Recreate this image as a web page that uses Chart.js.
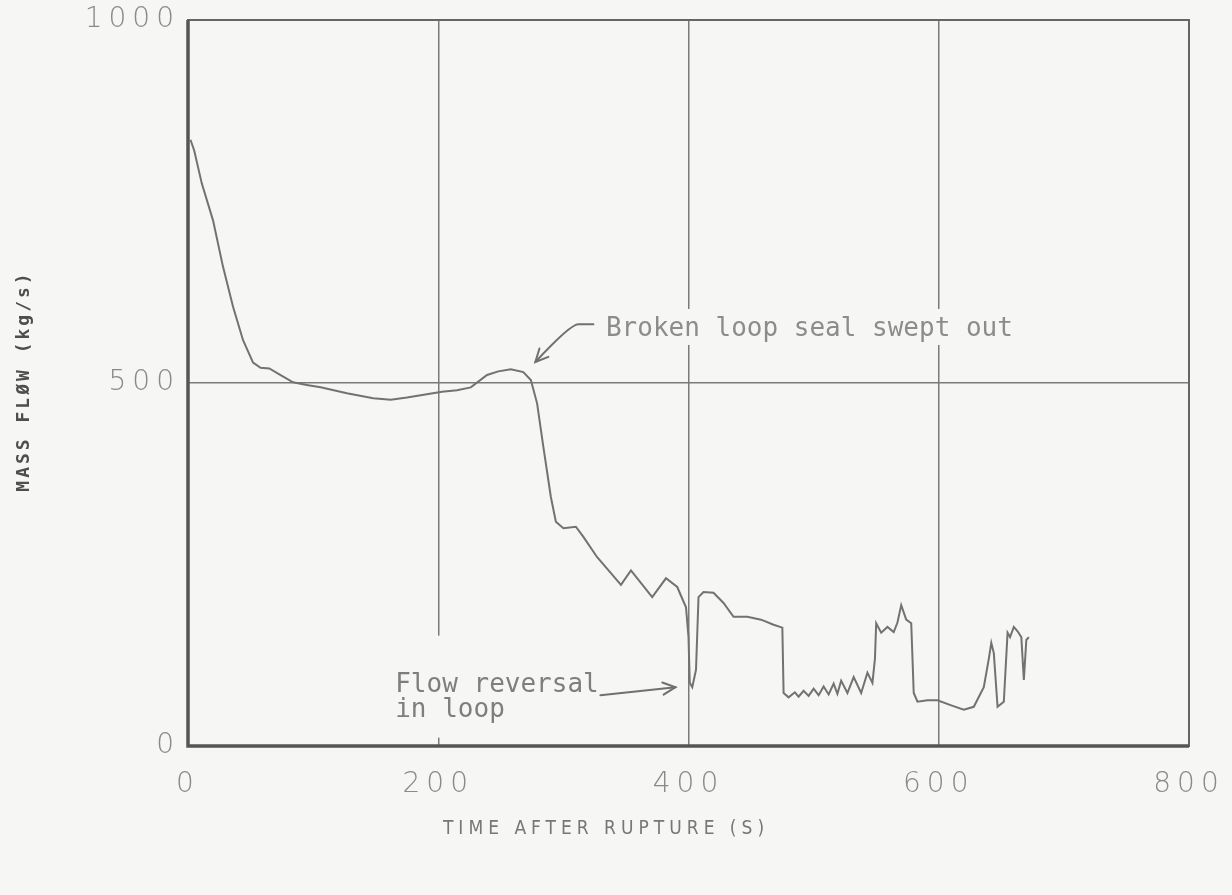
<!DOCTYPE html>
<html>
<head>
<meta charset="utf-8">
<title>Mass flow after rupture</title>
<script src="https://cdn.jsdelivr.net/npm/chart.js@4/dist/chart.umd.min.js"></script>
<style>
  html, body { margin: 0; padding: 0; background: #f6f6f4; }
  #wrap { width: 1232px; height: 895px; }
</style>
</head>
<body>
<div id="wrap"><canvas id="flowChart" width="1232" height="895"></canvas></div>
<script>
// values (time in s, mass flow in kg/s)
const times = [2, 5, 11, 20, 28, 36, 44, 52, 58, 65, 74, 84, 96, 106, 127, 148, 162, 175, 186, 203,
  215, 226, 239, 248, 258, 268, 274, 279, 284, 290, 294, 300, 310, 316, 327, 338, 346, 354, 371, 382,
  391, 398, 400, 401, 403, 406, 408, 412, 420, 428, 436, 447, 458, 468, 475, 476, 480, 485, 488, 492,
  496, 500, 504, 508, 512, 516, 519, 522, 527, 532, 538, 543, 547, 549, 550, 554, 559, 564, 567, 570,
  574, 578, 580, 583, 591, 599, 610, 620, 628, 636, 640, 642, 644, 647, 652, 655, 657, 660, 663, 666,
  668, 670, 672];
const flows = [835, 820, 775, 724, 660, 605, 559, 528, 521, 520, 511, 501, 497, 494, 486, 479, 477, 480, 483, 488,
  490, 494, 511, 516, 519, 515, 504, 472, 412, 343, 309, 300, 302, 288, 260, 238, 222, 242, 205, 231,
  219, 191, 150, 87, 81, 105, 205, 212, 211, 197, 178, 178, 174, 167, 163, 73, 67, 74, 68, 76,
  69, 79, 70, 82, 71, 86, 72, 90, 73, 95, 73, 101, 87, 120, 169, 156, 164, 157, 170, 194,
  174, 169, 73, 61, 63, 63, 56, 50, 54, 81, 120, 142, 128, 54, 61, 156, 150, 164, 158, 150,
  91, 146, 150];

const xTicks = [0, 200, 400, 600, 800];
const yTicks = [0, 500, 1000];
const xTitle = 'TIME AFTER RUPTURE (S)';
const yTitle = 'MASS FLØW (kg/s)';
const sealNote = 'Broken loop seal swept out';
const reversalNote = ['Flow reversal', 'in loop'];

const paperColor = '#f6f6f4';
const inkColor = '#727272';
const noteFont = '26px "DejaVu Sans Mono", "Liberation Mono", monospace';

// plot furniture: paper, frame, titles and the two hand-written notes
const paper = {
    id: 'paper',
    beforeDraw(chart) {
        const ctx = chart.ctx;
        ctx.save();
        ctx.fillStyle = paperColor;
        ctx.fillRect(0, 0, chart.width, chart.height);
        ctx.restore();
        ctx.letterSpacing = '6px';
    },
    beforeDatasetsDraw(chart) {
        // the notes sit on blank paper, cutting the grid lines
        const ctx = chart.ctx;
        const x = chart.scales.x, y = chart.scales.y;
        ctx.save();
        ctx.fillStyle = paperColor;
        ctx.fillRect(x.getPixelForValue(330), y.getPixelForValue(602), 430, 36);
        ctx.fillRect(x.getPixelForValue(161), y.getPixelForValue(152), 205, 102);
        ctx.restore();
    },
    afterDraw(chart) {
        const ctx = chart.ctx;
        const a = chart.chartArea;
        const x = chart.scales.x, y = chart.scales.y;
        ctx.save();
        ctx.letterSpacing = '0px';

        // frame: heavy left and bottom, lighter top and right
        ctx.strokeStyle = '#666';
        ctx.lineWidth = 2;
        ctx.strokeRect(a.left, a.top, a.right - a.left, a.bottom - a.top);
        ctx.strokeStyle = '#555';
        ctx.lineWidth = 3.5;
        ctx.beginPath();
        ctx.moveTo(a.left, a.top);
        ctx.lineTo(a.left, a.bottom);
        ctx.lineTo(a.right, a.bottom);
        ctx.stroke();

        // axis titles
        ctx.fillStyle = '#777';
        ctx.font = '19px "Liberation Sans Narrow", "DejaVu Sans Condensed", "DejaVu Sans Mono", sans-serif';
        ctx.letterSpacing = '5px';
        ctx.textAlign = 'center';
        ctx.textBaseline = 'middle';
        ctx.fillText(xTitle, 606, 829);

        ctx.save();
        ctx.translate(24, (a.top + a.bottom) / 2);
        ctx.rotate(-Math.PI / 2);
        ctx.fillStyle = '#4e4e4e';
        ctx.font = 'bold 18px "DejaVu Sans Mono", "Liberation Mono", monospace';
        ctx.letterSpacing = '3px';
        ctx.fillText(yTitle, 2, 0);
        ctx.restore();

        // notes
        ctx.letterSpacing = '0px';
        ctx.font = noteFont;
        ctx.fillStyle = '#8c8c8c';
        ctx.textAlign = 'left';
        ctx.textBaseline = 'alphabetic';
        ctx.fillText(sealNote, x.getPixelForValue(334), y.getPixelForValue(565));
        ctx.fillStyle = '#7e7e7e';
        ctx.fillText(reversalNote[0], x.getPixelForValue(165.6), y.getPixelForValue(74));
        ctx.fillText(reversalNote[1], x.getPixelForValue(165.6), y.getPixelForValue(40));

        // arrows
        ctx.strokeStyle = '#707070';
        ctx.lineWidth = 2;
        ctx.lineCap = 'round';
        const p = (t, v) => [x.getPixelForValue(t), y.getPixelForValue(v)];
        const head = (from, to) => {
            const ang = Math.atan2(to[1] - from[1], to[0] - from[0]);
            ctx.beginPath();
            ctx.moveTo(to[0] - 14 * Math.cos(ang - 0.45), to[1] - 14 * Math.sin(ang - 0.45));
            ctx.lineTo(to[0], to[1]);
            ctx.lineTo(to[0] - 14 * Math.cos(ang + 0.45), to[1] - 14 * Math.sin(ang + 0.45));
            ctx.stroke();
        };
        let s = p(324, 581), m = p(312, 581), tip = p(277.6, 529);
        ctx.beginPath();
        ctx.moveTo(s[0], s[1]);
        ctx.lineTo(m[0], m[1]);
        ctx.quadraticCurveTo(m[0] - 8, m[1], tip[0], tip[1]);
        ctx.stroke();
        head([m[0] - 8, m[1]], tip);

        s = p(329.6, 70);
        tip = p(389.6, 81);
        ctx.beginPath();
        ctx.moveTo(s[0], s[1]);
        ctx.lineTo(tip[0], tip[1]);
        ctx.stroke();
        head(s, tip);

        ctx.restore();
    }
};

const tickFont = { family: '"DejaVu Sans", "Liberation Sans", sans-serif', size: 28, weight: '200' };

new Chart(document.getElementById('flowChart'), {
    type: 'line',
    data: {
        datasets: [{
            label: 'Mass flow',
            data: times.map((t, i) => ({ x: t, y: flows[i] })),
            borderColor: inkColor,
            borderWidth: 2,
            pointRadius: 0,
            tension: 0,
            fill: false
        }]
    },
    options: {
        responsive: false,
        animation: false,
        devicePixelRatio: 1,
        layout: { padding: { top: 20, right: 43, left: 0, bottom: 0 } },
        plugins: {
            legend: { display: false },
            tooltip: { enabled: false }
        },
        scales: {
            x: {
                type: 'linear',
                min: 0,
                max: 800,
                afterBuildTicks: (scale) => { scale.ticks = xTicks.map(v => ({ value: v })); },
                afterFit: (scale) => {
                    scale.height = 149;
                    scale.paddingLeft = 0;
                    scale.paddingRight = 0;
                },
                border: { display: false },
                grid: { color: '#7a7a7a', lineWidth: 1.5, drawTicks: false },
                ticks: { color: '#8a8a8a', font: tickFont, padding: 22, maxRotation: 0, callback: (v) => String(v) }
            },
            y: {
                type: 'linear',
                min: 0,
                max: 1000,
                afterBuildTicks: (scale) => { scale.ticks = yTicks.map(v => ({ value: v })); },
                afterFit: (scale) => {
                    scale.width = 188;
                    scale.paddingTop = 0;
                    scale.paddingBottom = 0;
                },
                border: { display: false },
                grid: { color: '#7a7a7a', lineWidth: 1.5, drawTicks: false },
                ticks: { color: '#8a8a8a', font: tickFont, padding: 8, callback: (v) => String(v) }
            }
        }
    },
    plugins: [paper]
});
</script>
</body>
</html>
